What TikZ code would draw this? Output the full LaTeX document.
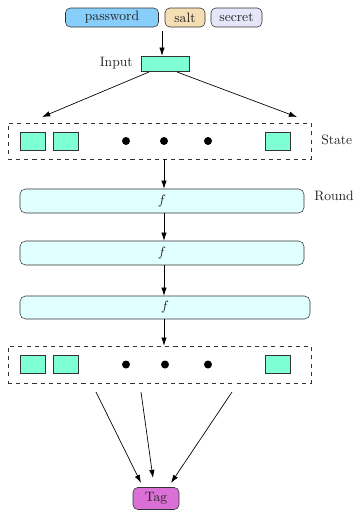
\documentclass[tikz,border=0pt]{standalone}
\usetikzlibrary{arrows.meta}
\definecolor{pwcol}{HTML}{87CEFA}
\definecolor{saltcol}{HTML}{F5DEB3}
\definecolor{seccol}{HTML}{E6E6FA}
\definecolor{cellcol}{HTML}{7FFFD4}
\definecolor{roundcol}{HTML}{E0FFFF}
\definecolor{tagcol}{HTML}{DA70D6}
\definecolor{txt}{HTML}{222222}
\begin{document}
\begin{tikzpicture}[x=0.735pt,y=-0.735pt,
  every node/.style={text=txt},
  pill/.style={draw=black!80,rounded corners=3.5pt,minimum height=19*0.735pt,inner sep=0pt},
  cell/.style={draw=black!80,fill=cellcol,minimum width=25*0.735pt,minimum height=18*0.735pt,inner sep=0pt},
  statebox/.style={draw=black!80,dashed,minimum width=303*0.735pt,minimum height=36*0.735pt,inner sep=0pt},
  roundbox/.style={draw=black!80,fill=roundcol,rounded corners=4pt,minimum height=24*0.735pt,inner sep=0pt},
  dotn/.style={circle,fill=black,minimum size=8*0.735pt,inner sep=0pt},
  arr/.style={-{Latex[length=6pt,width=4pt]},black,line width=0.5pt},
  lbl/.style={inner sep=0pt}
]
\useasboundingbox (0,0) rectangle (356,510);
% inputs
\node[pill,fill=pwcol,minimum width=93*0.735pt] (pw) at (112,17.5) {password};
\node[pill,fill=saltcol,minimum width=40*0.735pt] (salt) at (185,17.5) {salt};
\node[pill,fill=seccol,minimum width=51*0.735pt] (sec) at (236.5,17.5) {secret};
\node[draw=black!80,fill=cellcol,minimum width=48*0.735pt,minimum height=15*0.735pt,inner sep=0pt] (input) at (165,63.5) {};
\node[lbl,anchor=east] (inlbl) at (133,63) {Input};
\coordinate (in0) at (162,31);
\draw[arr] (in0) -- (in0 |- input.north);
% first state
\node[statebox] (s1) at (159.5,141) {};
\node[cell] (a1) at (32.5,141) {};
\node[cell] (a2) at (65.5,141) {};
\node[cell] (a3) at (277.5,141) {};
\node[dotn] (d1) at (126,141) {};
\node[dotn] (d2) at (164,141) {};
\node[dotn] (d3) at (208,141) {};
\node[lbl,anchor=west] (slbl) at (321,140) {State};
\coordinate (il) at (149,72);
\coordinate (ir) at (177,72);
\coordinate (tl) at (42,117);
\coordinate (tr) at (297,117);
\draw[arr] (il) -- (tl);
\draw[arr] (ir) -- (tr);
% rounds
\node[roundbox,minimum width=284*0.735pt] (r1) at (162,201) {$f$};
\node[roundbox,minimum width=284*0.735pt] (r2) at (162,253) {$f$};
\node[roundbox,minimum width=290*0.735pt,minimum height=23*0.735pt] (r3) at (165,307.5) {$f$};
\node[lbl,anchor=west] (rlbl) at (314,196) {Round};
\coordinate (ax) at (164,0);
\draw[arr] (ax |- s1.south) -- (ax |- r1.north);
\draw[arr] (ax |- r1.south) -- (ax |- r2.north);
\draw[arr] (ax |- r2.south) -- (ax |- r3.north);
% second state
\node[statebox,minimum height=37*0.735pt] (s2) at (159.5,364.5) {};
\node[cell] (b1) at (32.5,364.5) {};
\node[cell] (b2) at (65.5,364.5) {};
\node[cell] (b3) at (277.5,364.5) {};
\node[dotn] (e1) at (126,364.5) {};
\node[dotn] (e2) at (165,364.5) {};
\node[dotn] (e3) at (208,364.5) {};
\draw[arr] (ax |- r3.south) -- (ax |- s2.north);
% tag
\node[pill,fill=tagcol,minimum width=46*0.735pt,minimum height=22*0.735pt] (tag) at (156,498.5) {Tag};
\coordinate (o1) at (96,392);
\coordinate (o2) at (141,392);
\coordinate (o3) at (232,392);
\coordinate (g1) at (141,483);
\coordinate (g2) at (153,478);
\coordinate (g3) at (171,483);
\draw[arr] (o1) -- (g1);
\draw[arr] (o2) -- (g2);
\draw[arr] (o3) -- (g3);
\end{tikzpicture}
\end{document}
